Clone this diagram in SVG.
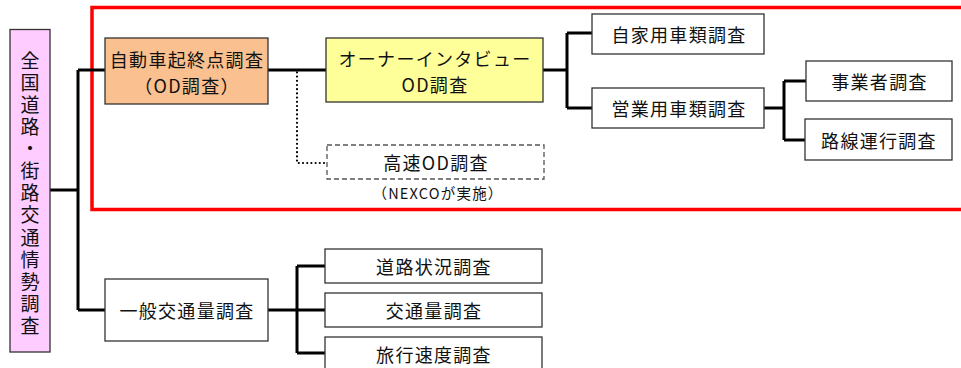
<svg xmlns="http://www.w3.org/2000/svg" width="961" height="368" viewBox="0 0 961 368">
<style>
.box{stroke:#333;stroke-width:1.3;fill:#fff}
.t{font-family:"Noto Sans CJK JP","Noto Sans",sans-serif;font-size:18px;letter-spacing:1.3px;fill:#111;text-anchor:middle;dominant-baseline:central}
.s{font-size:14.5px;letter-spacing:1.2px}
.v{font-family:"Noto Sans CJK JP",sans-serif;font-size:19px;letter-spacing:3.1px;fill:#111;writing-mode:vertical-rl;text-anchor:start}
.c{fill:none;stroke:#000;stroke-width:3}
.dot{fill:none;stroke:#000;stroke-width:2.2;stroke-linecap:round;stroke-dasharray:0 4.2}
</style>
<rect width="961" height="368" fill="#fff"/>
<g id="frame"><rect x="92" y="7.5" width="880" height="202" fill="none" stroke="#ff0000" stroke-width="3.5"/></g>
<g id="connectors">
<path class="c" d="M50 190H78M78 70V310M78 70H105M78 310H105"/>
<path class="c" d="M268 70H326"/>
<path class="dot" d="M270 70H297V163H326"/>
<path class="c" d="M543 70H567M567 33V108M567 33H592M567 108H592"/>
<path class="c" d="M764 108H784M784 81V140M784 81H806M784 140H806"/>
<path class="c" d="M268 310H297M297 266V353M297 266H325M297 310H325M297 353H325"/>
</g>
<g id="root"><rect x="10" y="29.5" width="40" height="322.5" fill="#ffccff" stroke="#333" stroke-width="1.3"/>
<text class="v" x="30" y="51">全国道路・街路交通情勢調査</text></g>
<g id="od"><rect class="box" x="105" y="38" width="163" height="66" style="fill:#fac090"/>
<text class="t" x="187" y="58.5">自動車起終点調査</text><text class="t" x="187" y="84.5">（OD調査）</text></g>
<g id="owner"><rect class="box" x="326" y="38" width="217" height="64" style="fill:#ffff99"/>
<text class="t" x="435" y="57.5">オーナーインタビュー</text><text class="t" x="435" y="83.5">OD調査</text></g>
<g id="highway"><rect x="327" y="145" width="217" height="34" fill="#fff" stroke="#555" stroke-width="1.3" stroke-dasharray="5 3"/>
<text class="t" x="436" y="162">高速OD調査</text><text class="t s" x="438" y="192">（NEXCOが実施）</text></g>
<g id="private"><rect class="box" x="592" y="14" width="172" height="40"/><text class="t" x="679" y="34">自家用車類調査</text></g>
<g id="commercial"><rect class="box" x="592" y="88" width="172" height="40"/><text class="t" x="679" y="108">営業用車類調査</text></g>
<g id="business"><rect class="box" x="806" y="61" width="146" height="40"/><text class="t" x="879.5" y="81">事業者調査</text></g>
<g id="route"><rect class="box" x="805" y="119" width="147" height="41"/><text class="t" x="879" y="139.5">路線運行調査</text></g>
<g id="general"><rect class="box" x="105" y="279" width="163" height="62"/><text class="t" x="187" y="310">一般交通量調査</text></g>
<g id="road"><rect class="box" x="325" y="249" width="217" height="34"/><text class="t" x="434" y="266">道路状況調査</text></g>
<g id="volume"><rect class="box" x="325" y="293" width="217" height="34"/><text class="t" x="434" y="310">交通量調査</text></g>
<g id="speed"><rect class="box" x="325" y="337" width="217" height="34"/><text class="t" x="434" y="354">旅行速度調査</text></g>
</svg>
